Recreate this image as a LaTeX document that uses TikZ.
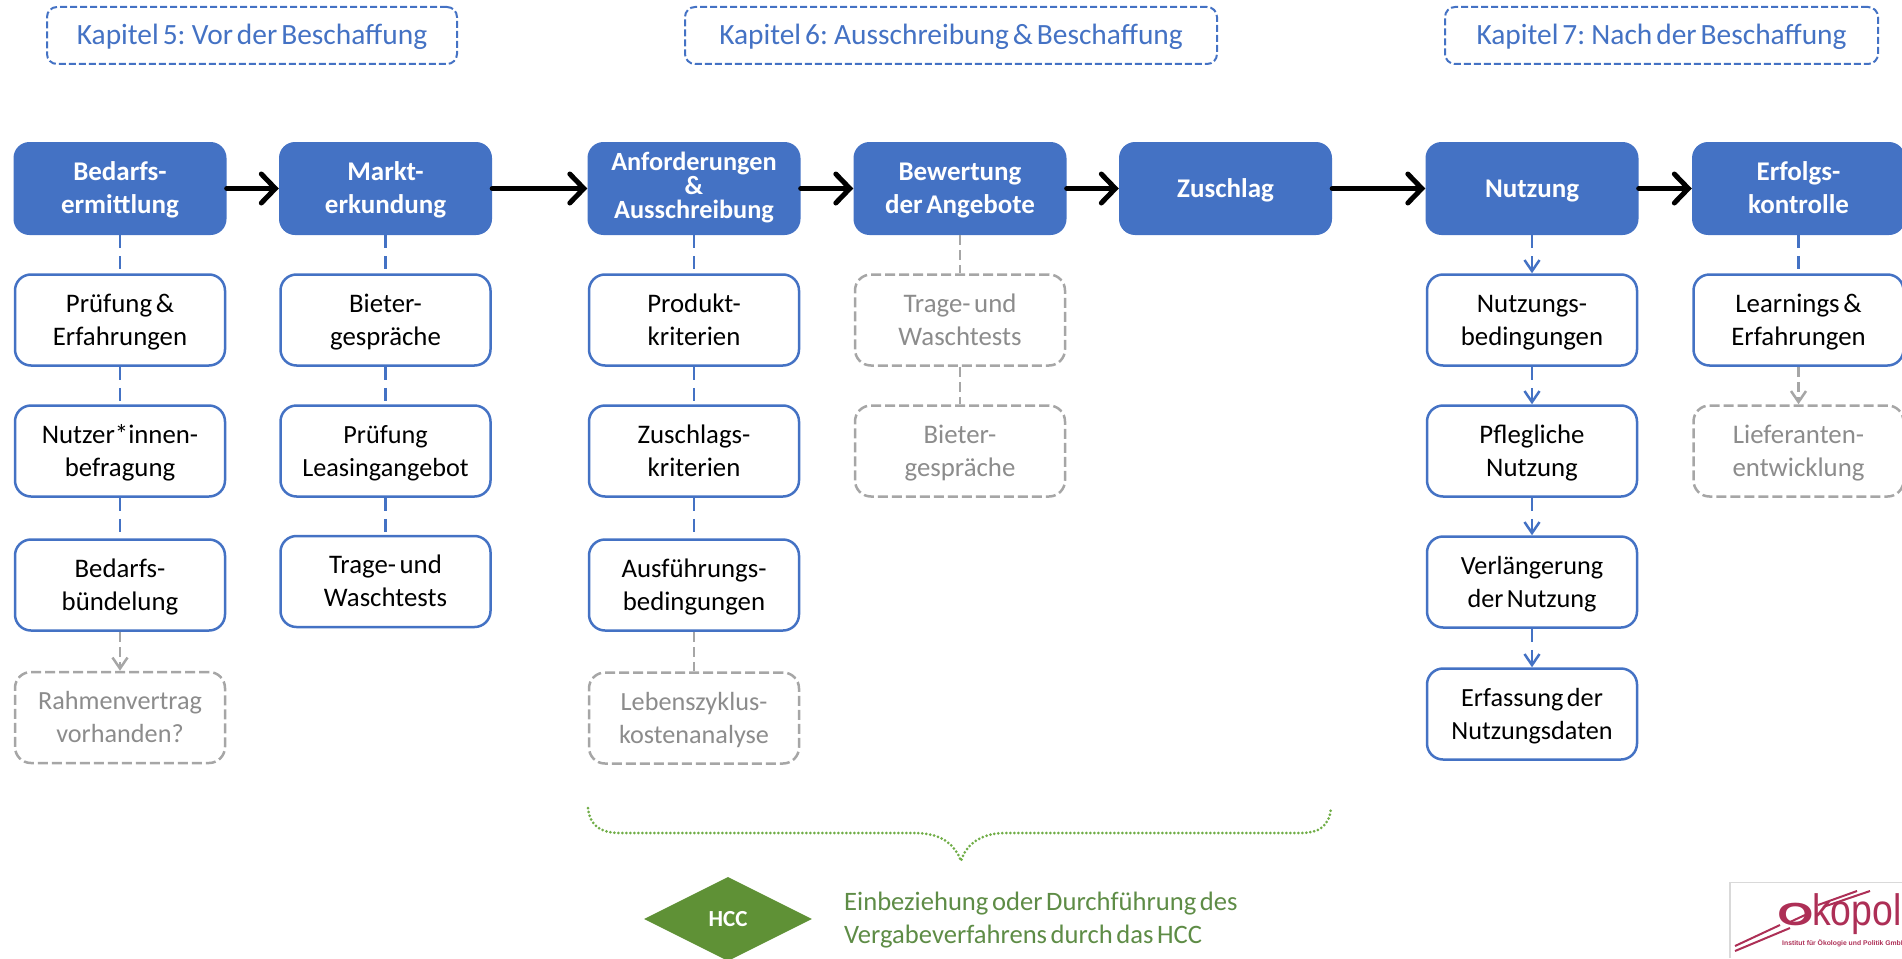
\documentclass[tikz,border=0pt]{standalone}
\usepackage{fontspec}
\setmainfont[WordSpace=0.6]{Carlito}
\newfontfamily\logofont{Liberation Sans}
\usetikzlibrary{arrows.meta,shapes.geometric}
\definecolor{hblue}{HTML}{4472C4}
\definecolor{hgrey}{HTML}{A6A6A6}
\definecolor{tgrey}{HTML}{8C8C8C}
\definecolor{hgreen}{HTML}{70AD47}
\definecolor{dgreen}{HTML}{5F9136}
\definecolor{tgreen}{HTML}{5E8C46}
\definecolor{logored}{HTML}{AD2F56}
\tikzset{
  x=1pt,y=-1pt,
  kap/.style={draw=hblue,line width=2pt,dash pattern=on 7pt off 3pt,rounded corners=10pt,fill=white,text=hblue,minimum height=57pt,inner sep=0pt,text height=20pt,text depth=2pt,font=\fontsize{29.4}{32}\selectfont},
  two/.style={text height=55pt,text depth=5pt},
  one/.style={text height=20pt,text depth=3pt},
  head/.style={fill=hblue,text=white,rounded corners=16pt,minimum width=213pt,minimum height=93pt,inner sep=0pt,align=center,two,font=\fontsize{27}{33}\selectfont\bfseries},
  sub/.style={draw=hblue,line width=2.5pt,fill=white,text=black,rounded corners=16pt,minimum width=210pt,minimum height=91pt,inner sep=0pt,align=center,two,font=\fontsize{26.8}{33}\selectfont},
  smalltext/.style={font=\fontsize{26.2}{33}\selectfont},
  opt/.style={sub,draw=hgrey,text=tgrey,dash pattern=on 10pt off 4pt},
  flow/.style={draw=black,line width=5pt,line cap=round,-{Straight Barb[length=14pt,width=29pt,line width=5pt,line cap=round]}},
  link/.style={draw=hblue,line width=2.5pt,dash pattern=on 13pt off 8pt},
  glink/.style={draw=hgrey,line width=2.5pt,dash pattern=on 10pt off 5pt},
  tip/.style={-{Straight Barb[length=11pt,width=15pt,line width=2.5pt]}},
}
\begin{document}
\begin{tikzpicture}
\useasboundingbox (0,0) rectangle (1902,958);
\clip (0,0) rectangle (1902,958);
% chapter labels
\node[kap,minimum width=410pt] (k5) at (252,35.5) {Kapitel 5: Vor der Beschaffung};
\node[kap,minimum width=532pt] (k6) at (951,35.5) {Kapitel 6: Ausschreibung \& Beschaffung};
\node[kap,minimum width=433pt] (k7) at (1661.5,35.5) {Kapitel 7: Nach der Beschaffung};
% main row
\node[head] (h1) at (120,188.5) {Bedarfs-\\ermittlung};
\node[head] (h2) at (385.5,188.5) {Markt-\\erkundung};
\node[head,text height=64pt,text depth=5pt,font=\fontsize{26.3}{23.6}\selectfont\bfseries] (h3) at (694,188.5) {Anforderungen\\\&\\Ausschreibung};
\node[head] (h4) at (960,188.5) {Bewertung\\der Angebote};
\node[head,one] (h5) at (1225.5,188.5) {Zuschlag};
\node[head,one] (h6) at (1532,188.5) {Nutzung};
\node[head] (h7) at (1798.5,188.5) {Erfolgs-\\kontrolle};
% column 1
\node[sub] (a1) at (120,320) {Prüfung \&\\Erfahrungen};
\node[sub] (a2) at (120,451) {Nutzer*innen-\\befragung};
\node[sub] (a3) at (120,585) {Bedarfs-\\bündelung};
\node[opt,smalltext] (a4) at (120,717.5) {Rahmenvertrag\\vorhanden?};
% column 2
\node[sub] (b1) at (385.5,320) {Bieter-\\gespräche};
\node[sub,smalltext] (b2) at (385.5,451) {Prüfung\\Leasingangebot};
\node[sub] (b3) at (385.5,581.5) {Trage- und\\Waschtests};
% column 3
\node[sub] (c1) at (694,320) {Produkt-\\kriterien};
\node[sub] (c2) at (694,451) {Zuschlags-\\kriterien};
\node[sub] (c3) at (694,585) {Ausführungs-\\bedingungen};
\node[opt,smalltext] (c4) at (694,718) {Lebenszyklus-\\kostenanalyse};
% column 4
\node[opt] (d1) at (960,320) {Trage- und\\Waschtests};
\node[opt] (d2) at (960,451) {Bieter-\\gespräche};
% column 6
\node[sub] (f1) at (1532,320) {Nutzungs-\\bedingungen};
\node[sub] (f2) at (1532,451) {Pflegliche\\Nutzung};
\node[sub,smalltext] (f3) at (1532,582) {Verlängerung\\der Nutzung};
\node[sub,smalltext] (f4) at (1532,714) {Erfassung der\\Nutzungsdaten};
% column 7
\node[sub] (g1) at (1798.5,320) {Learnings \&\\Erfahrungen};
\node[opt] (g2) at (1798.5,451) {Lieferanten-\\entwicklung};
% flow
\foreach \p/\q in {h1/h2,h2/h3,h3/h4,h4/h5,h5/h6,h6/h7}
  \draw[flow] (\p.east) -- (\q.west);
% links
\foreach \p/\q in {h1/a1,a1/a2,a2/a3,h2/b1,b1/b2,b2/b3,h3/c1,c1/c2,c2/c3,h7/g1}
  \draw[link] (\p.south) -- (\q.north);
\foreach \p/\q in {c3/c4,h4/d1,d1/d2}
  \draw[glink] (\p.south) -- (\q.north);
\foreach \p/\q in {a3/a4,g1/g2}
  \draw[glink,tip] (\p.south) -- (\q.north);
\foreach \p/\q in {h6/f1,f1/f2,f2/f3,f3/f4}
  \draw[link,tip] (\p.south) -- (\q.north);
% brace
\draw[hgreen,line width=3pt,line cap=round,dash pattern=on 0pt off 4pt]
  (588,808) .. controls (590,826) and (600,833) .. (622,833)
  -- (915,833) .. controls (942,833) and (955,845) .. (961,861)
  .. controls (966,845) and (980,833) .. (1005,833)
  -- (1300,833) .. controls (1320,833) and (1329,826) .. (1331,808);
% HCC
\node[diamond,shape aspect=2,fill=dgreen,text=white,minimum width=168pt,minimum height=84pt,inner sep=0pt,font=\fontsize{23}{26}\selectfont\bfseries] (hcc) at (728,919) {HCC};
\node[anchor=west,text=tgreen,align=left,inner sep=0pt,font=\fontsize{26.6}{33}\selectfont] (hcct) at (844,920) {Einbeziehung oder Durchführung des\\Vergabeverfahrens durch das HCC};
% logo
\draw[black!15,line width=1.5pt] (1730,958) -- (1730,882.5) -- (1902,882.5);
\draw[logored,line width=2pt] (1735,946) -- (1780,925) (1735,951) -- (1790,928)
  (1790,922) -- (1805,915) (1818,905) -- (1857,891) (1823,907) -- (1870,891);
\node[logored,anchor=base west,inner sep=0pt,xscale=1.45,font=\fontsize{32}{32}\logofont\bfseries] (logoO) at (1777,925) {O};
\node[logored,anchor=base west,inner sep=0pt,xscale=.85,font=\fontsize{44}{44}\logofont] (logoK) at (1812,925) {kopol};
\node[logored,anchor=base west,inner sep=0pt,font=\fontsize{6.8}{8}\logofont\bfseries] (logoT) at (1782,945) {Institut für Ökologie und Politik GmbH};
\end{tikzpicture}
\end{document}
